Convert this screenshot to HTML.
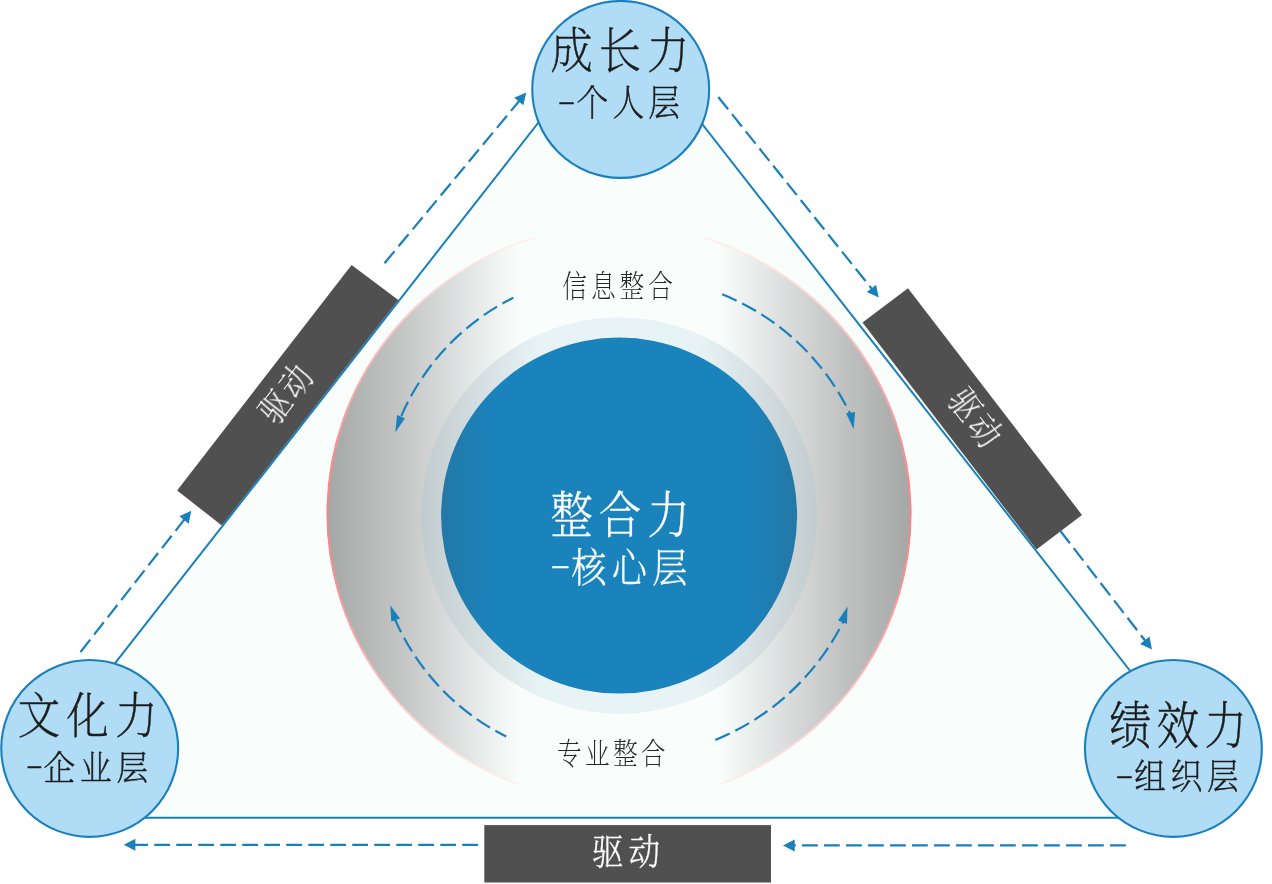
<!DOCTYPE html>
<html lang="zh-CN">
<head>
<meta charset="utf-8">
<title>整合力</title>
<style>
html,body{margin:0;padding:0;background:#fff;}
body{width:1272px;height:884px;overflow:hidden;position:relative;}
svg{position:absolute;left:0;top:0;display:block;}
text{font-family:"Liberation Serif","Noto Serif CJK SC",serif;}
.k{fill:#1c1c1c;stroke:#1c1c1c;stroke-width:0.5;stroke-linejoin:round;}
.l{fill:#262626;}
.o{fill:#ffffff;}
.w{fill:#ffffff;stroke:#ffffff;stroke-width:0.3;stroke-linejoin:round;}
.dash{fill:none;stroke:#1a80bc;stroke-width:2.2;stroke-dasharray:15.75 6.25;}
.head{fill:#1a80bc;}
</style>
</head>
<body>
<svg width="1272" height="884" viewBox="0 0 1272 884">
<defs>
<linearGradient id="gRing" x1="0" y1="0" x2="1" y2="0">
<stop offset="0" stop-color="#a5a6a6"/>
<stop offset="0.12" stop-color="#c2c4c4"/>
<stop offset="0.33" stop-color="#f9fdfc"/>
<stop offset="0.67" stop-color="#f9fdfc"/>
<stop offset="0.88" stop-color="#c2c4c4"/>
<stop offset="1" stop-color="#a5a6a6"/>
</linearGradient>
<linearGradient id="gPinkL" gradientUnits="userSpaceOnUse" x1="326" y1="0" x2="534" y2="0">
<stop offset="0" stop-color="#ff8080"/>
<stop offset="0.1" stop-color="#ffa2a2"/>
<stop offset="0.25" stop-color="#ffbcbc"/>
<stop offset="0.41" stop-color="#ffcfcf"/>
<stop offset="0.6" stop-color="#ffdede"/>
<stop offset="0.8" stop-color="#ffe9e9"/>
<stop offset="1" stop-color="#fdf1f0"/>
</linearGradient>
<linearGradient id="gPinkR" gradientUnits="userSpaceOnUse" x1="912" y1="0" x2="704" y2="0">
<stop offset="0" stop-color="#ff8080"/>
<stop offset="0.1" stop-color="#ffa2a2"/>
<stop offset="0.25" stop-color="#ffbcbc"/>
<stop offset="0.41" stop-color="#ffcfcf"/>
<stop offset="0.6" stop-color="#ffdede"/>
<stop offset="0.8" stop-color="#ffe9e9"/>
<stop offset="1" stop-color="#fdf1f0"/>
</linearGradient>
<linearGradient id="gLight" x1="0" y1="0" x2="1" y2="0">
<stop offset="0" stop-color="#c2cbce"/>
<stop offset="0.3" stop-color="#e8f3f6"/>
<stop offset="0.7" stop-color="#e8f3f6"/>
<stop offset="1" stop-color="#c2cbce"/>
</linearGradient>
<linearGradient id="gBlue" x1="0" y1="0" x2="1" y2="0">
<stop offset="0" stop-color="#2378a6"/>
<stop offset="0.15" stop-color="#1a83bc"/>
<stop offset="0.85" stop-color="#1a83bc"/>
<stop offset="1" stop-color="#2378a6"/>
</linearGradient>
</defs>

<!-- triangle -->
<polygon points="105.5,675.4 548.5,109.7 692,111 1140,683.5 1130,817.7 130,817.7" fill="#f9fdfc" stroke="#1a80bc" stroke-width="2"/>

<!-- rings -->
<ellipse cx="619" cy="513.7" rx="292" ry="288.7" fill="url(#gRing)"/>
<path d="M534,237.9 A291.6,288.3 0 0 0 519,784.5" fill="none" stroke="url(#gPinkL)" stroke-width="1.9"/>
<path d="M704.4,238.0 A291.6,288.3 0 0 1 718.4,784.7" fill="none" stroke="url(#gPinkR)" stroke-width="1.9"/>
<circle cx="619.3" cy="515.6" r="198.1" fill="url(#gLight)"/>
<circle cx="619.1" cy="515.6" r="178" fill="url(#gBlue)"/>

<!-- dark bars -->
<polygon points="177.1,490.4 351.6,265.1 398.3,300.1 221.8,525.5" fill="#505050"/>
<polygon points="862.5,322.5 908,288.25 1082,515 1036.5,549.5" fill="#505050"/>
<rect x="484.3" y="825.1" width="286.7" height="57.4" fill="#505050"/>

<!-- corner circles -->
<circle cx="620.7" cy="89.45" r="88.45" fill="#b0ddf5" stroke="#1a80bc" stroke-width="2.1"/>
<circle cx="89.7" cy="748.4" r="88.45" fill="#b0ddf5" stroke="#1a80bc" stroke-width="2.1"/>
<circle cx="1173.4" cy="748.4" r="88.45" fill="#b0ddf5" stroke="#1a80bc" stroke-width="2.1"/>

<!-- dashed arrows -->
<g>
<path class="dash" d="M80.50,652.00 L184.65,519.17"/>
<polygon class="head" points="191.25,510.75 188.71,523.63 179.35,516.29"/>
<path class="dash" d="M384.50,263.25 L519.42,100.73"/>
<polygon class="head" points="526.25,92.50 523.35,105.30 514.20,97.70"/>
<path class="dash" d="M718.25,97.00 L872.06,289.15"/>
<polygon class="head" points="878.75,297.50 866.79,292.08 876.08,284.65"/>
<path class="dash" d="M1060.25,530.75 L1145.46,641.03"/>
<polygon class="head" points="1152.00,649.50 1140.14,643.88 1149.55,636.60"/>
<path class="dash" d="M1125.80,845.45 L793.70,845.45"/>
<polygon class="head" points="783.00,845.45 794.70,839.50 794.70,851.40"/>
<path class="dash" d="M478.00,844.80 L134.40,844.80"/>
<polygon class="head" points="123.70,844.80 135.40,838.85 135.40,850.75"/>
<path class="dash" stroke-dashoffset="3.45" d="M513.33,297.76 A236.8,236.8 0 0 0 400.84,417.13"/>
<polygon class="head" points="395.30,432.40 397.00,414.90 404.90,418.30"/>
<path class="dash" stroke-dashoffset="0.00" d="M722.18,294.35 A241.4,241.4 0 0 1 850.11,413.69"/>
<polygon class="head" points="853.65,429.10 846.00,413.30 855.10,412.10"/>
<path class="dash" stroke-dashoffset="3.45" d="M506.21,736.59 A237.1,237.1 0 0 1 394.93,619.23"/>
<polygon class="head" points="390.30,605.60 391.30,621.60 400.10,618.50"/>
<path class="dash" stroke-dashoffset="0.00" d="M715.32,739.95 A247.3,247.3 0 0 0 843.37,621.49"/>
<polygon class="head" points="847.50,606.60 838.10,620.40 847.00,623.90"/>
</g>

<!-- labels -->
<g opacity="0.999">
<text class="k" font-size="48" letter-spacing="6.84" font-weight="200" transform="translate(550.54,68.08) scale(0.88,1.03)">成长力</text>
<text class="k" font-size="36" letter-spacing="4.82" font-weight="200" transform="translate(576.48,115.66) scale(0.88,1.015)"><tspan x="-21.04" y="-7.88" font-size="21.6" letter-spacing="0" textLength="19.34" lengthAdjust="spacingAndGlyphs">-</tspan><tspan x="0" y="0">个人层</tspan></text>
<text class="k" font-size="48" letter-spacing="7.4" font-weight="200" transform="translate(17.81,733.09) scale(0.88,1.027)">文化力</text>
<text class="k" font-size="36" letter-spacing="5.56" font-weight="200" transform="translate(43.49,779.75) scale(0.88,0.95)"><tspan x="-19.72" y="-8.24" font-size="21.6" letter-spacing="0" textLength="18.50" lengthAdjust="spacingAndGlyphs">-</tspan><tspan x="0" y="0">企业层</tspan></text>
<text class="k" font-size="48" letter-spacing="6.22" font-weight="200" transform="translate(1109.13,743.66) scale(0.88,1.059)">绩效力</text>
<text class="k" font-size="36" letter-spacing="5.34" font-weight="200" transform="translate(1134.28,788.98) scale(0.88,0.973)"><tspan x="-20.96" y="-7.33" font-size="21.6" letter-spacing="0" textLength="19.76" lengthAdjust="spacingAndGlyphs">-</tspan><tspan x="0" y="0">组织层</tspan></text>
<text class="w" font-size="48" letter-spacing="7.07" font-weight="300" transform="translate(550.60,533.07) scale(0.88,1.033)">整合力</text>
<text class="w" font-size="40" letter-spacing="6.05" font-weight="300" transform="translate(571.26,581.72) scale(0.88,0.995)"><tspan x="-23.57" y="-8.33" font-size="24.0" letter-spacing="0" textLength="22.42" lengthAdjust="spacingAndGlyphs">-</tspan><tspan x="0" y="0">核心层</tspan></text>
<text class="l" font-size="28" letter-spacing="4.55" font-weight="200" transform="translate(562.26,297.48) scale(0.88,1.08)">信息整合</text>
<text class="l" font-size="28" letter-spacing="3.71" font-weight="200" transform="translate(557.08,763.55) scale(0.88,1.073)">专业整合</text>
<text class="w" font-size="36" letter-spacing="5.41" font-weight="300" transform="translate(592.08,865.06) scale(0.88,1.012)">驱动</text>
<text class="o" font-size="34" letter-spacing="3.32" font-weight="300" transform="translate(285.20,393.80) rotate(-52.2) translate(-31.24,13.20) scale(0.88,1.016)">驱动</text>
<text class="o" font-size="34" letter-spacing="3.32" font-weight="300" transform="translate(975.40,417.20) rotate(52.5) translate(-31.24,13.20) scale(0.88,1.016)">驱动</text>
</g>
</svg>
</body>
</html>
